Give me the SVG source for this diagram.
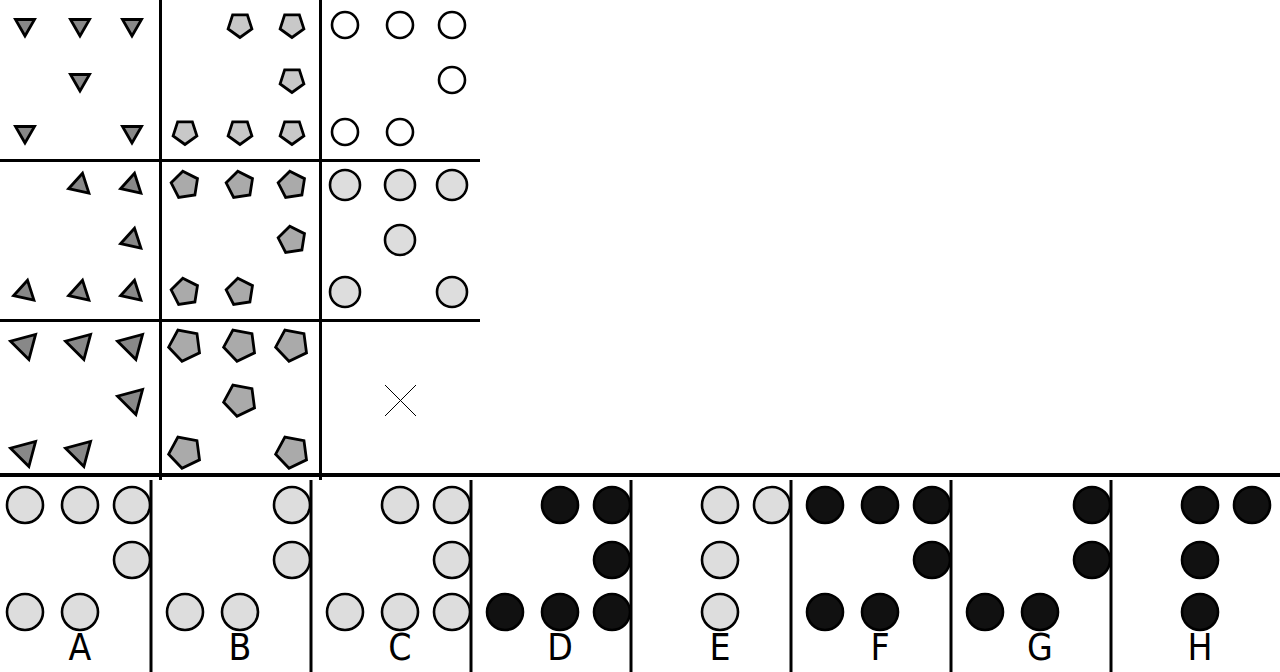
<svg xmlns="http://www.w3.org/2000/svg" xmlns:xlink="http://www.w3.org/1999/xlink" width="1280" height="672" viewBox="0 0 1280 672">
<style>
.tri{fill:#888888;stroke:#000;stroke-width:2.8}
.penS{fill:#c8c8c8;stroke:#000;stroke-width:2.8}
.pen{fill:#aaaaaa;stroke:#000;stroke-width:2.8}
.cw{fill:#fff;stroke:#000;stroke-width:2.6}
.cl{fill:#dddddd;stroke:#000;stroke-width:2.6}
.cb{fill:#111111;stroke:#000;stroke-width:2.6}
.grid{stroke:#000;stroke-width:3}
.lbl{font-family:"DejaVu Sans Condensed","DejaVu Sans",sans-serif;font-size:37px;fill:#000;text-anchor:middle}
</style>
<defs>
<polygon id="triS" points="0,-11 9.53,5.5 -9.53,5.5"/>
<polygon id="triM" points="0,-12 10.39,6 -10.39,6"/>
<polygon id="triL" points="0,-15 12.99,7.5 -12.99,7.5"/>
<polygon id="penS" points="0,-12.5 11.89,-3.86 7.35,10.11 -7.35,10.11 -11.89,-3.86"/>
<polygon id="penM" points="0,-14 13.32,-4.33 8.23,11.33 -8.23,11.33 -13.32,-4.33"/>
<polygon id="penL" points="0,-16.5 15.69,-5.1 9.7,13.35 -9.7,13.35 -15.69,-5.1"/>
</defs>
<rect width="1280" height="672" fill="#fff"/>

<g id="cell-1-1" class="tri">
<use xlink:href="#triS" transform="translate(25,25) rotate(180)"/>
<use xlink:href="#triS" transform="translate(80,25) rotate(180)"/>
<use xlink:href="#triS" transform="translate(132,25) rotate(180)"/>
<use xlink:href="#triS" transform="translate(80,80) rotate(180)"/>
<use xlink:href="#triS" transform="translate(25,132) rotate(180)"/>
<use xlink:href="#triS" transform="translate(132,132) rotate(180)"/>
</g>
<g id="cell-1-2" class="penS">
<use xlink:href="#penS" transform="translate(240,25) rotate(180)"/>
<use xlink:href="#penS" transform="translate(292,25) rotate(180)"/>
<use xlink:href="#penS" transform="translate(292,80) rotate(180)"/>
<use xlink:href="#penS" transform="translate(185,132) rotate(180)"/>
<use xlink:href="#penS" transform="translate(240,132) rotate(180)"/>
<use xlink:href="#penS" transform="translate(292,132) rotate(180)"/>
</g>
<g id="cell-1-3" class="cw">
<circle cx="345" cy="25" r="13"/>
<circle cx="400" cy="25" r="13"/>
<circle cx="452" cy="25" r="13"/>
<circle cx="452" cy="80" r="13"/>
<circle cx="345" cy="132" r="13"/>
<circle cx="400" cy="132" r="13"/>
</g>

<g id="cell-2-1" class="tri">
<use xlink:href="#triM" transform="translate(80,185) rotate(12)"/>
<use xlink:href="#triM" transform="translate(132,185) rotate(12)"/>
<use xlink:href="#triM" transform="translate(132,240) rotate(12)"/>
<use xlink:href="#triM" transform="translate(25,292) rotate(12)"/>
<use xlink:href="#triM" transform="translate(80,292) rotate(12)"/>
<use xlink:href="#triM" transform="translate(132,292) rotate(12)"/>
</g>
<g id="cell-2-2" class="pen">
<use xlink:href="#penM" transform="translate(185,185) rotate(-9)"/>
<use xlink:href="#penM" transform="translate(240,185) rotate(-9)"/>
<use xlink:href="#penM" transform="translate(292,185) rotate(-9)"/>
<use xlink:href="#penM" transform="translate(292,240) rotate(-9)"/>
<use xlink:href="#penM" transform="translate(185,292) rotate(-9)"/>
<use xlink:href="#penM" transform="translate(240,292) rotate(-9)"/>
</g>
<g id="cell-2-3" class="cl">
<circle cx="345" cy="185" r="15"/>
<circle cx="400" cy="185" r="15"/>
<circle cx="452" cy="185" r="15"/>
<circle cx="400" cy="240" r="15"/>
<circle cx="345" cy="292" r="15"/>
<circle cx="452" cy="292" r="15"/>
</g>

<g id="cell-3-1" class="tri">
<use xlink:href="#triL" transform="translate(25,345) rotate(45)"/>
<use xlink:href="#triL" transform="translate(80,345) rotate(45)"/>
<use xlink:href="#triL" transform="translate(132,345) rotate(45)"/>
<use xlink:href="#triL" transform="translate(132,400) rotate(45)"/>
<use xlink:href="#triL" transform="translate(25,452) rotate(45)"/>
<use xlink:href="#triL" transform="translate(80,452) rotate(45)"/>
</g>
<g id="cell-3-2" class="pen">
<use xlink:href="#penL" transform="translate(185,345) rotate(46.5)"/>
<use xlink:href="#penL" transform="translate(240,345) rotate(46.5)"/>
<use xlink:href="#penL" transform="translate(292,345) rotate(46.5)"/>
<use xlink:href="#penL" transform="translate(240,400) rotate(46.5)"/>
<use xlink:href="#penL" transform="translate(185,452) rotate(46.5)"/>
<use xlink:href="#penL" transform="translate(292,452) rotate(46.5)"/>
</g>
<g id="cell-3-3">
<line x1="385" y1="385" x2="416" y2="416" stroke="#000" stroke-width="1"/>
<line x1="416" y1="385" x2="385" y2="416" stroke="#000" stroke-width="1"/>
</g>

<g id="option-A">
<g class="cl">
<circle cx="25" cy="505" r="18"/><circle cx="80" cy="505" r="18"/><circle cx="132" cy="505" r="18"/>
<circle cx="132" cy="560" r="18"/><circle cx="25" cy="612" r="18"/><circle cx="80" cy="612" r="18"/>
</g>
<text class="lbl" x="80" y="660">A</text>
</g>
<g id="option-B">
<g class="cl">
<circle cx="292" cy="505" r="18"/><circle cx="292" cy="560" r="18"/>
<circle cx="185" cy="612" r="18"/><circle cx="240" cy="612" r="18"/>
</g>
<text class="lbl" x="240" y="660">B</text>
</g>
<g id="option-C">
<g class="cl">
<circle cx="400" cy="505" r="18"/><circle cx="452" cy="505" r="18"/><circle cx="452" cy="560" r="18"/>
<circle cx="345" cy="612" r="18"/><circle cx="400" cy="612" r="18"/><circle cx="452" cy="612" r="18"/>
</g>
<text class="lbl" x="400" y="660">C</text>
</g>
<g id="option-D">
<g class="cb">
<circle cx="560" cy="505" r="18"/><circle cx="612" cy="505" r="18"/><circle cx="612" cy="560" r="18"/>
<circle cx="505" cy="612" r="18"/><circle cx="560" cy="612" r="18"/><circle cx="612" cy="612" r="18"/>
</g>
<text class="lbl" x="560" y="660">D</text>
</g>
<g id="option-E">
<g class="cl">
<circle cx="720" cy="505" r="18"/><circle cx="772" cy="505" r="18"/>
<circle cx="720" cy="560" r="18"/><circle cx="720" cy="612" r="18"/>
</g>
<text class="lbl" x="720" y="660">E</text>
</g>
<g id="option-F">
<g class="cb">
<circle cx="825" cy="505" r="18"/><circle cx="880" cy="505" r="18"/><circle cx="932" cy="505" r="18"/>
<circle cx="932" cy="560" r="18"/><circle cx="825" cy="612" r="18"/><circle cx="880" cy="612" r="18"/>
</g>
<text class="lbl" x="880" y="660">F</text>
</g>
<g id="option-G">
<g class="cb">
<circle cx="1092" cy="505" r="18"/><circle cx="1092" cy="560" r="18"/>
<circle cx="985" cy="612" r="18"/><circle cx="1040" cy="612" r="18"/>
</g>
<text class="lbl" x="1040" y="660">G</text>
</g>
<g id="option-H">
<g class="cb">
<circle cx="1200" cy="505" r="18"/><circle cx="1252" cy="505" r="18"/>
<circle cx="1200" cy="560" r="18"/><circle cx="1200" cy="612" r="18"/>
</g>
<text class="lbl" x="1200" y="660">H</text>
</g>

<g id="connectors" class="grid">
<line x1="160.5" y1="0" x2="160.5" y2="480"/>
<line x1="320.5" y1="0" x2="320.5" y2="480"/>
<line x1="0" y1="160.5" x2="480" y2="160.5"/>
<line x1="0" y1="320.5" x2="480" y2="320.5"/>
<line x1="0" y1="475" x2="1280" y2="475" stroke-width="4"/>
<line x1="151" y1="480" x2="151" y2="672"/>
<line x1="311" y1="480" x2="311" y2="672"/>
<line x1="471" y1="480" x2="471" y2="672"/>
<line x1="631" y1="480" x2="631" y2="672"/>
<line x1="791" y1="480" x2="791" y2="672"/>
<line x1="951" y1="480" x2="951" y2="672"/>
<line x1="1111" y1="480" x2="1111" y2="672"/>
</g>
</svg>
